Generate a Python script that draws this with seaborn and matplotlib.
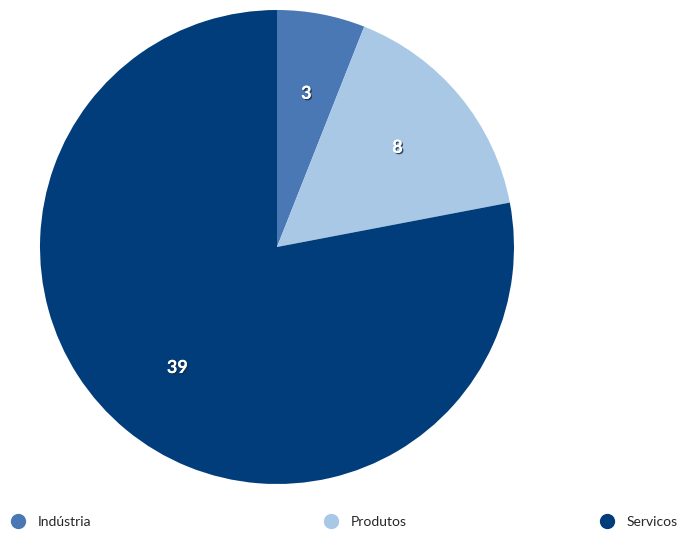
import matplotlib
matplotlib.use('Agg')
import seaborn as sns
from matplotlib import pyplot as plt
from matplotlib import patheffects as pe
from matplotlib.lines import Line2D

categorias = ['Indústria', 'Produtos', 'Servicos']
valores = [3, 8, 39]
cores = ['#4a78b5', '#a8c8e6', '#003d7a']

sns.set_theme(style='white')
plt.rcParams['font.family'] = ['Lato', 'DejaVu Sans']

fig = plt.figure(figsize=(6.9, 5.33), dpi=100)
ax = fig.add_axes([40 / 690, 49 / 533, 474 / 690, 474 / 533])

wedges, texts = ax.pie(valores, colors=cores, startangle=90, counterclock=False,
                       labels=[str(v) for v in valores], labeldistance=0.66,
                       wedgeprops=dict(linewidth=0))
for t in texts:
    t.set_color('white')
    t.set_fontsize(13)
    t.set_fontweight('bold')
    t.set_ha('center')
    t.set_va('center')
    t.set_path_effects([pe.withSimplePatchShadow(offset=(1, -1), shadow_rgbFace='#1a2a40', alpha=0.8),
                        pe.Normal()])
ax.set_aspect('equal')
ax.set_xlim(-1, 1)
ax.set_ylim(-1, 1)

# legenda em três posições separadas
pos_x = [4 / 690, 317 / 690, 593 / 690]
for nome, cor, x in zip(categorias, cores, pos_x):
    h = Line2D([], [], marker='o', linestyle='', markersize=10, color=cor)
    fig.legend(handles=[h], labels=[nome], loc='center left', bbox_to_anchor=(x, 11 / 533),
               frameon=False, fontsize=10, handletextpad=0.9, borderpad=0, handlelength=1)

plt.savefig('out.png', dpi=100)
